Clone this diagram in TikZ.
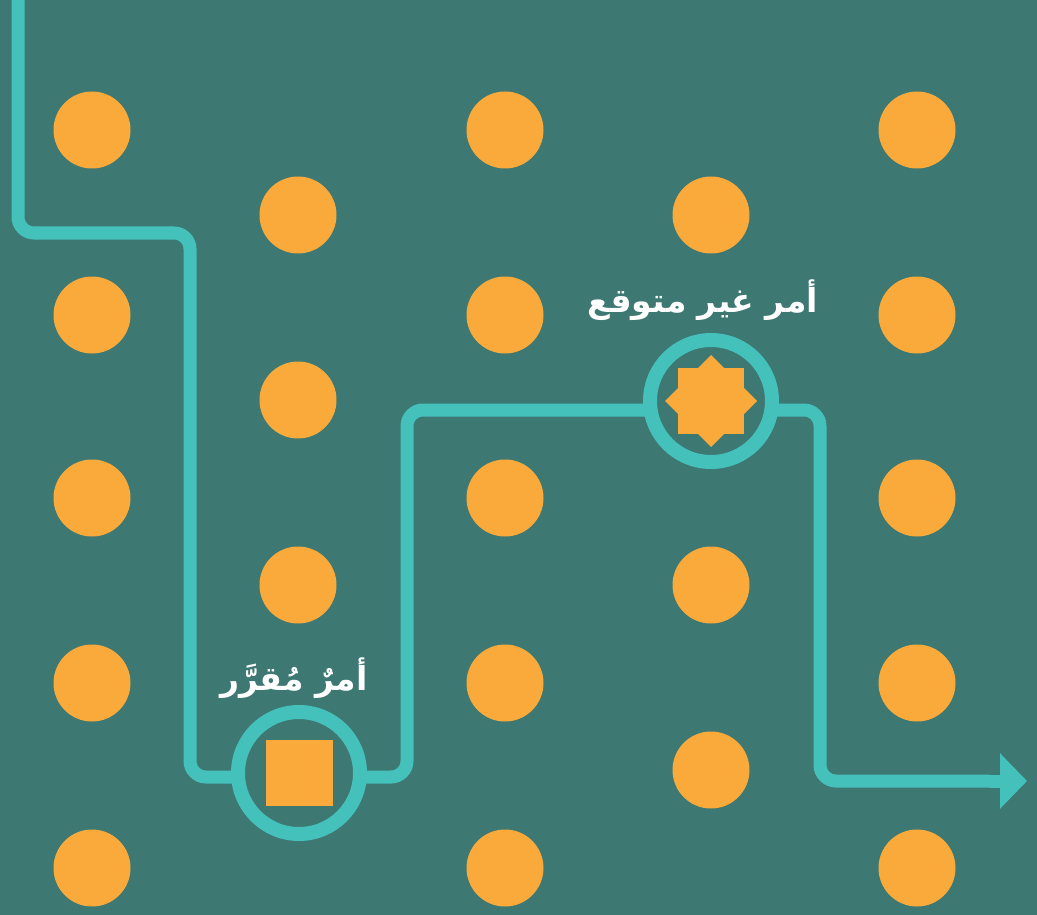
\documentclass[tikz,border=0pt]{standalone}
\usepackage{fontspec}
\usetikzlibrary{arrows.meta}
\TeXXeTstate=1
\newfontfamily\arabicfont[Script=Arabic]{DejaVu Sans}
\definecolor{bg}{RGB}{61,120,115}
\definecolor{dotc}{RGB}{250,170,59}
\definecolor{linec}{RGB}{69,193,188}
\tikzset{
  dot/.style={circle, fill=dotc, minimum size=77pt, inner sep=0pt},
  ring/.style={circle, draw=linec, line width=14pt, fill=bg, minimum size=122pt, inner sep=0pt},
  route/.style={draw=linec, line width=13pt, rounded corners=16pt},
  lbl/.style={text=white, font=\arabicfont\bfseries\fontsize{33}{40}\selectfont, inner sep=0pt}
}
\begin{document}
\begin{tikzpicture}[x=1pt,y=-1pt]
\fill[bg] (0,0) rectangle (1037,915);
\useasboundingbox (0,0) rectangle (1037,915);
% dots
\foreach \x/\n in {92/a,505/c,917/e}{
  \foreach \y/\m in {130/1,315/2,498/3,683/4,868/5}{
    \node[dot] (d\n\m) at (\x,\y) {};
  }
}
\foreach \y/\m in {215/1,400/2,585/3}{ \node[dot] (db\m) at (298,\y) {}; }
\foreach \y/\m in {215/1,585/3,770/4}{ \node[dot] (dd\m) at (711,\y) {}; }
% route
\coordinate (s0) at (18,-20);
\coordinate (p1) at (18,233);
\coordinate (p2) at (190,233);
\coordinate (p3) at (190,777);
\coordinate (c1) at (299,777);
\coordinate (p4) at (407,777);
\coordinate (p5) at (407,410);
\coordinate (c2) at (711,410);
\coordinate (p6) at (820,410);
\coordinate (p7) at (820,781);
\coordinate (a0) at (990,781);
\coordinate (e) at (1027,781);
\path[route] (s0) -- (p1) -- (p2) -- (p3) -- (c1);
\path[route] (c1) -- (p4) -- (p5) -- (c2);
\path[route] (c2) -- (p6) -- (p7) -- (a0);
\draw[linec, line width=13pt, -{Triangle[length=27pt,width=54pt]}] (a0) -- (e);
% rings
\node[ring] (r1) at (299,773) {};
\node[ring] (r2) at (711,401) {};
\fill[dotc] (266,740) rectangle (333,806);
\begin{scope}[shift={(r2.center)}]
\fill[dotc] (0:46) -- (90:46) -- (180:46) -- (270:46) -- cycle;
\fill[dotc] (45:46) -- (135:46) -- (225:46) -- (315:46) -- cycle;
\end{scope}
% labels
\node[lbl] (t2) at (703,300) {\beginR أمر غير متوقع\endR};
\node[lbl] (t1) at (294,678) {\beginR أمرٌ مُقرَّر\endR};
\end{tikzpicture}
\end{document}
